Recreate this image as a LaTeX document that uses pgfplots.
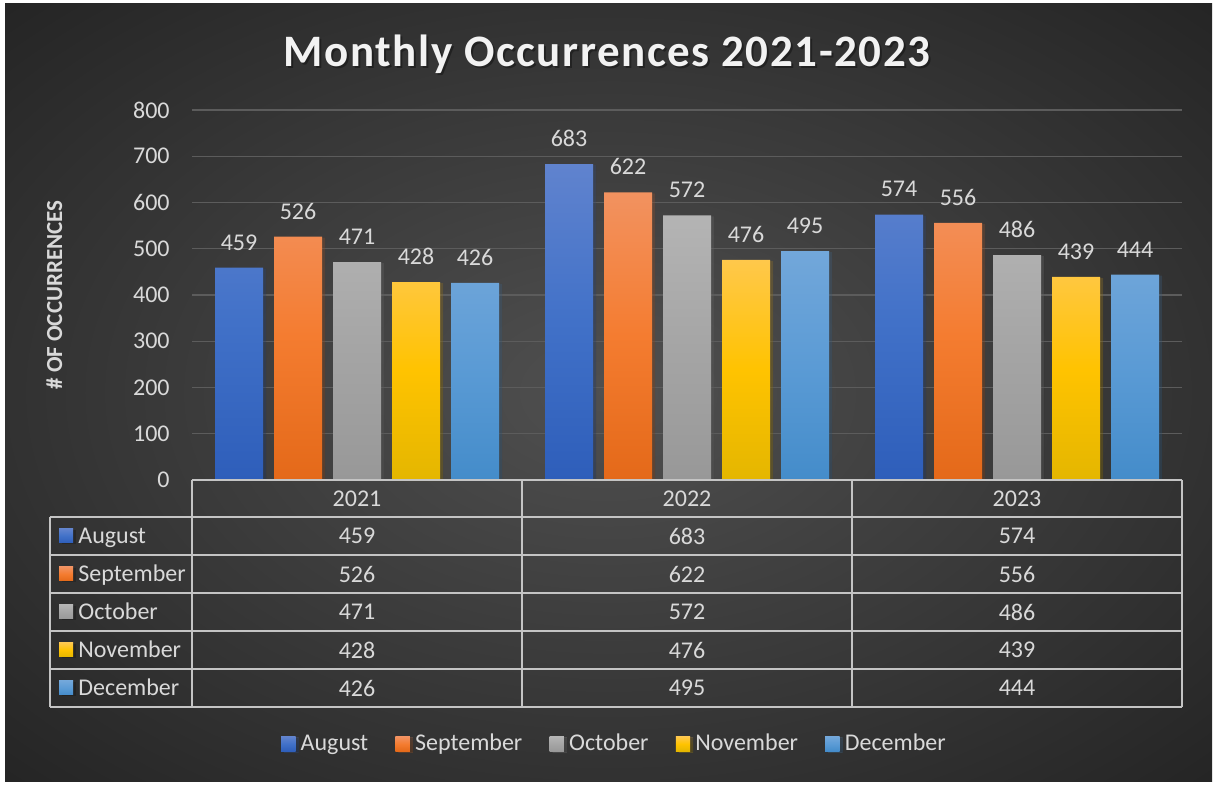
\documentclass[border=0pt]{standalone}
\usepackage{fontspec}
\setmainfont{Carlito}
\usepackage{pgfplots}
\pgfplotsset{compat=1.18}
\definecolor{txt}{RGB}{217,217,217}
\definecolor{gridc}{RGB}{92,92,92}
\definecolor{tline}{RGB}{196,196,196}
\definecolor{bgin}{RGB}{80,80,80}
\definecolor{bgout}{RGB}{36,36,36}
\definecolor{augT}{RGB}{96,131,206}\definecolor{augM}{RGB}{65,113,200}\definecolor{augB}{RGB}{46,94,186}
\definecolor{sepT}{RGB}{242,146,96}\definecolor{sepM}{RGB}{244,124,48}\definecolor{sepB}{RGB}{228,105,25}
\definecolor{octT}{RGB}{180,180,180}\definecolor{octM}{RGB}{165,165,165}\definecolor{octB}{RGB}{152,152,152}
\definecolor{novT}{RGB}{255,200,75}\definecolor{novM}{RGB}{255,195,0}\definecolor{novB}{RGB}{228,182,0}
\definecolor{decT}{RGB}{114,167,218}\definecolor{decM}{RGB}{91,155,213}\definecolor{decB}{RGB}{68,140,202}
\pgfdeclareradialshading{bgshade}{\pgfpoint{0bp}{0bp}}{color(0bp)=(bgin); color(36bp)=(bgout); color(50bp)=(bgout)}
\tikzset{
  barshadow/.style={preaction={fill=black, fill opacity=0.2, transform canvas={xshift=1.5pt,yshift=-0.5pt}}},
  sAug/.style={draw=none, barshadow, top color=augT, bottom color=augB, middle color=augM},
  sSep/.style={draw=none, barshadow, top color=sepT, bottom color=sepB, middle color=sepM},
  sOct/.style={draw=none, barshadow, top color=octT, bottom color=octB, middle color=octM},
  sNov/.style={draw=none, barshadow, top color=novT, bottom color=novB, middle color=novM},
  sDec/.style={draw=none, barshadow, top color=decT, bottom color=decB, middle color=decM},
}
\newcommand{\tf}{\fontsize{12}{14}\selectfont}
\begin{document}
\begin{tikzpicture}
\begin{scope}[x=0.5pt,y=-0.5pt]
  \fill[white] (0,0) rectangle (1216,785);
  \shade[shading=bgshade] (5,4) rectangle (1212,781);
  % title
  \node[anchor=base, text=black, opacity=0.35, font=\fontsize{22.5}{26}\selectfont\bfseries\addfontfeatures{LetterSpace=3.5}] at (609,69) {Monthly Occurrences 2021-2023};
  \node[anchor=base, text={rgb,255:red,242;green,242;blue,242}, font=\fontsize{22.5}{26}\selectfont\bfseries\addfontfeatures{LetterSpace=3.5}] at (607,67) {Monthly Occurrences 2021-2023};
  % y label
  \node[anchor=base, rotate=90, text=txt, font=\fontsize{11.5}{13}\selectfont\bfseries] at (62,295) {\# OF OCCURRENCES};
\end{scope}
\begin{axis}[
  at={(96pt,-240pt)}, anchor=south west,
  width=495pt, height=185pt, scale only axis,
  xmin=-0.5, xmax=2.5, ymin=0, ymax=800,
  ytick={0,100,...,800}, xtick=\empty,
  axis line style={draw=none},
  ymajorgrids, grid style={line width=0.6pt, color=gridc},
  major tick length=0pt,
  /pgf/number format/assume math mode=true,
  yticklabel style={font=\tf, text=txt, anchor=east, inner sep=0pt, xshift=-11pt},
  ybar=5.5pt, bar width=24pt,
  clip=false,
  nodes near coords,
  every node near coord/.append style={font=\tf, text=txt, inner sep=0pt, yshift=8.5pt},
  legend columns=5,
  legend style={at={(0.4283,-0.7135)}, anchor=center, draw=none, fill=none, font=\tf, text=txt,
    nodes={inner xsep=2.6pt, inner ysep=1pt},
    /tikz/every even column/.append style={column sep=11pt}},
  legend image code/.code={\fill[#1] (0pt,-3.6pt) rectangle (7.2pt,3.6pt);},
]
\addplot[sAug] coordinates {(0,459) (1,683) (2,574)};
\addplot[sSep] coordinates {(0,526) (1,622) (2,556)};
\addplot[sOct] coordinates {(0,471) (1,572) (2,486)};
\addplot[sNov] coordinates {(0,428) (1,476) (2,439)};
\addplot[sDec] coordinates {(0,426) (1,495) (2,444)};
\legend{August,September,October,November,December}
\end{axis}
\begin{scope}[x=0.5pt,y=-0.5pt]
  % table lines
  \draw[tline, line width=0.75pt] (192,480) -- (1182,480);
  \foreach \yy in {517,555,593,631,669,707} \draw[tline, line width=0.75pt] (50,\yy) -- (1182,\yy);
  \foreach \xx in {192,522,852,1182} \draw[tline, line width=0.75pt] (\xx,480) -- (\xx,707);
  \draw[tline, line width=0.75pt] (50,517) -- (50,707);
  % header
  \foreach \xx/\lab in {357/2021,687/2022,1017/2023} \node[font=\tf, text=txt] at (\xx,498.5) {\lab};
  % row labels
  \foreach \yy/\lab/\st in {536/August/sAug,574/September/sSep,612/October/sOct,650/November/sNov,688/December/sDec}{
    \fill[\st, preaction={}] (59,\yy-7) rectangle (73,\yy+7);
    \node[font=\tf, text=txt, anchor=base west, inner sep=0pt] at (78,\yy+7.5) {\lab};
  }
  % values
  \foreach \yy/\a/\b/\c in {536/459/683/574,574/526/622/556,612/471/572/486,650/428/476/439,688/426/495/444}{
    \node[font=\tf, text=txt] at (357,\yy) {\a};
    \node[font=\tf, text=txt] at (687,\yy) {\b};
    \node[font=\tf, text=txt] at (1017,\yy) {\c};
  }
\end{scope}
\end{tikzpicture}
\end{document}
